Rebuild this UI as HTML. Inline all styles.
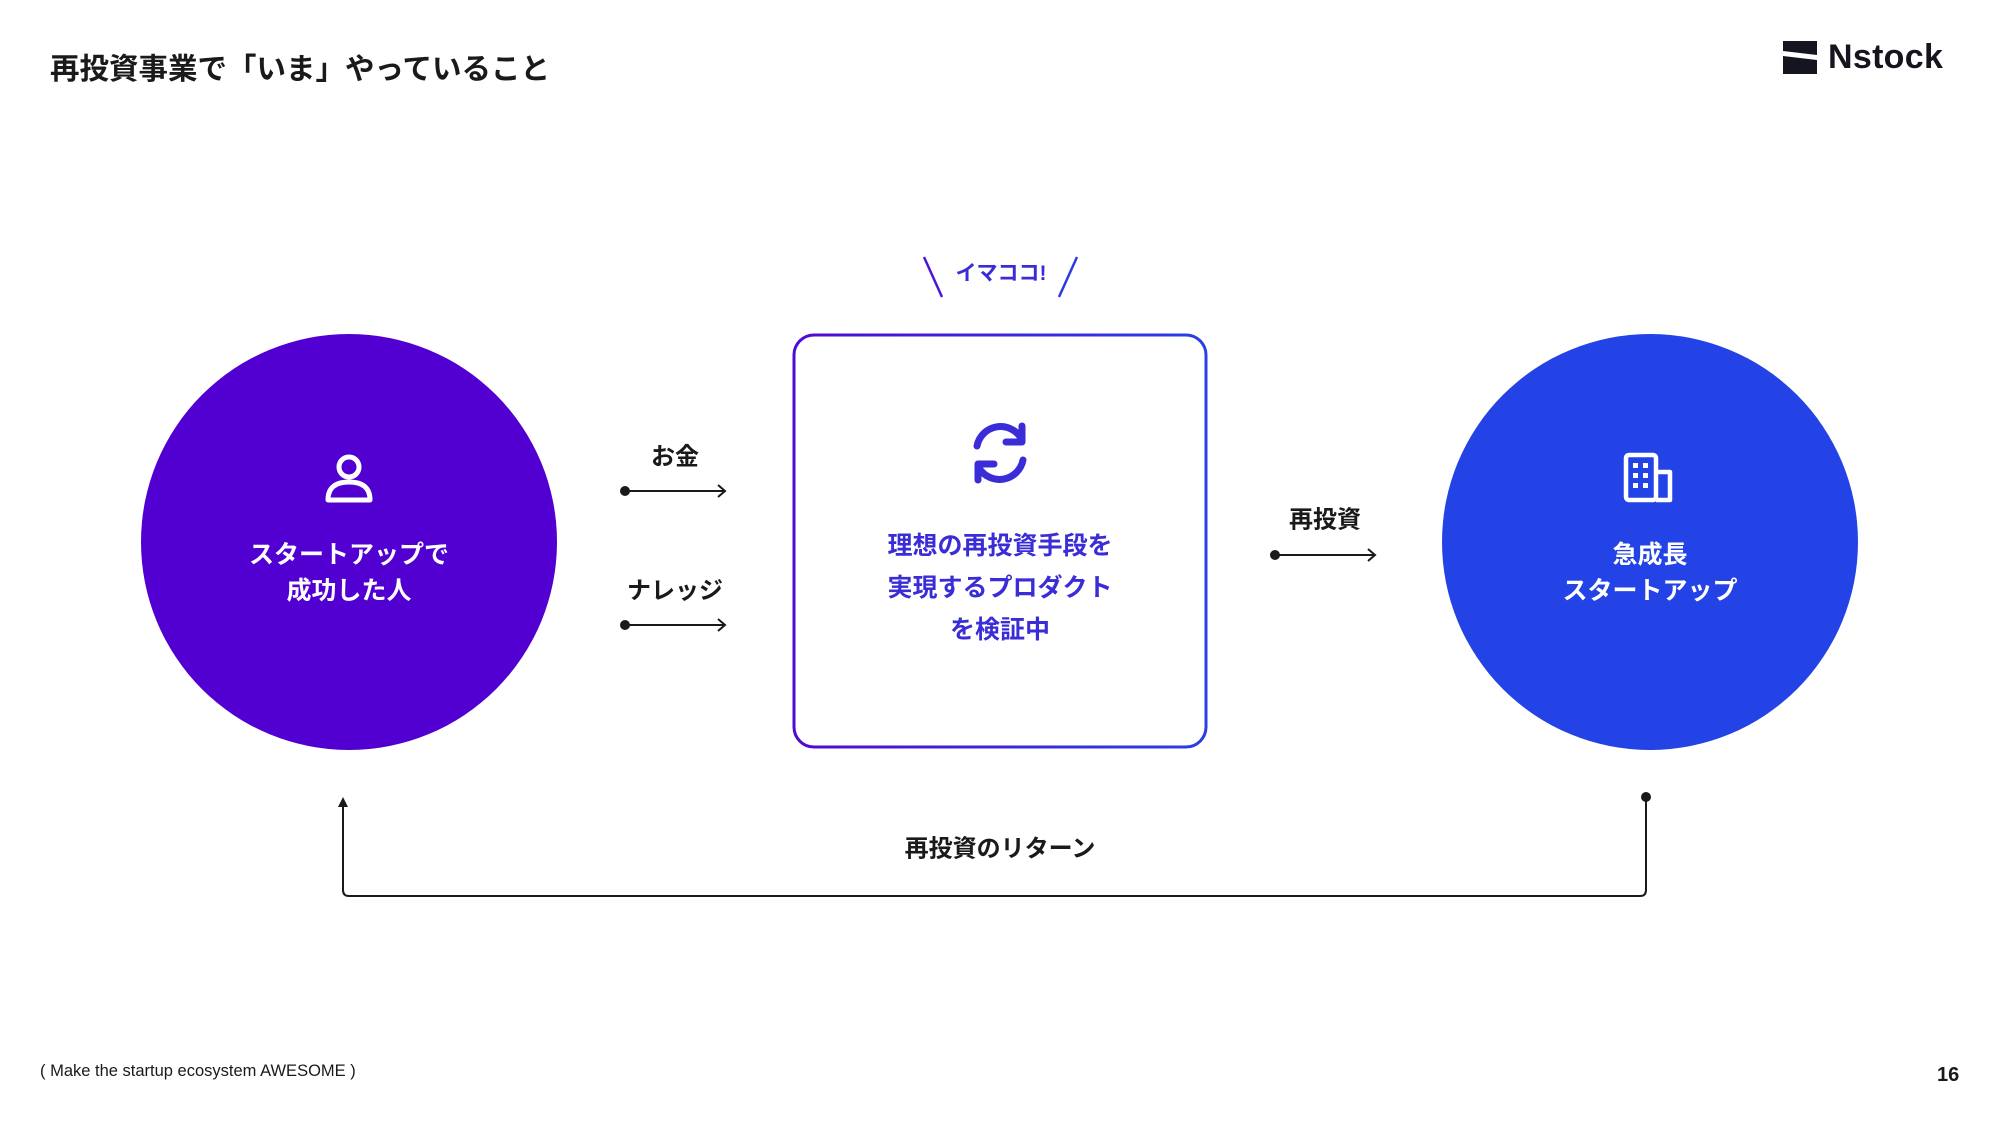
<!DOCTYPE html>
<html><head><meta charset="utf-8"><style>
body{margin:0;width:2000px;height:1125px;background:#fff;position:relative;overflow:hidden;font-family:"Liberation Sans","Noto Sans CJK JP",sans-serif;color:#1a1a1a}
.t{position:absolute;white-space:nowrap;font-weight:700}
.c{transform:translate(-50%,-50%);text-align:center}
</style></head><body>
<div class="t" style="left:50px;top:46px;font-size:29.5px;">再投資事業で「いま」やっていること</div>
<svg style="position:absolute;left:1783px;top:41px" width="34" height="33" viewBox="0 0 34 33"><polygon points="0,0 34,0 34,14 0,10" fill="#15151f"/><polygon points="0,15 34,19 34,33 0,33" fill="#15151f"/></svg>
<div class="t" style="left:1828px;top:38px;font-size:34px;color:#15151f;letter-spacing:0.3px">Nstock</div>

<svg style="position:absolute;left:0;top:0" width="2000" height="1125">
<defs><linearGradient id="g" x1="0" x2="1" y1="0" y2="0"><stop offset="0" stop-color="#4f0ad3"/><stop offset="1" stop-color="#2a3fe6"/></linearGradient></defs>
<circle cx="349" cy="542" r="208" fill="#5200d2"/>
<circle cx="1650" cy="542" r="208" fill="#2343e6"/>
<rect x="794" y="335" width="412" height="412" rx="20" fill="#fff" stroke="url(#g)" stroke-width="3"/>
<line x1="924" y1="257" x2="942" y2="297" stroke="#4a16d8" stroke-width="2.5"/>
<line x1="1077" y1="257" x2="1059" y2="297" stroke="#2f3ae3" stroke-width="2.5"/>
<g stroke="#1a1a1a" stroke-width="2" fill="none">
<line x1="625" y1="491" x2="725" y2="491"/><polyline points="718,485 725,491 718,497"/>
<line x1="625" y1="625" x2="725" y2="625"/><polyline points="718,619 725,625 718,631"/>
<line x1="1275" y1="555" x2="1375" y2="555"/><polyline points="1368,549 1375,555 1368,561"/>
<path d="M1646 797 V890 Q1646 896 1640 896 H349 Q343 896 343 890 V804"/>
</g>
<g fill="#1a1a1a"><circle cx="625" cy="491" r="5"/><circle cx="625" cy="625" r="5"/><circle cx="1275" cy="555" r="5"/><circle cx="1646" cy="797" r="5"/><polygon points="343,797 338,807 348,807"/></g>
<g stroke="#fff" stroke-width="5" fill="none"><circle cx="349" cy="467" r="10"/><path d="M328 500 Q328 482 349 482 Q370 482 370 500 Z" stroke-linejoin="round"/></g>
<g stroke="#3a2cd6" stroke-width="7" fill="none" stroke-linecap="round" stroke-linejoin="round">
<path d="M977 446 A24 24 0 0 1 1021 438"/><polyline points="1022,426 1022,442 1006,442"/>
<path d="M1023 460 A24 24 0 0 1 979 468"/><polyline points="978,480 978,464 994,464"/>
</g>
<g stroke="#fff" stroke-width="4.5" fill="none" stroke-linejoin="round">
<rect x="1626" y="455" width="30" height="45" rx="3"/><path d="M1656 472 H1670 V500 H1656"/>
</g>
<g fill="#fff"><rect x="1633" y="463" width="5" height="5"/><rect x="1643" y="463" width="5" height="5"/><rect x="1633" y="473" width="5" height="5"/><rect x="1643" y="473" width="5" height="5"/><rect x="1633" y="483" width="5" height="5"/><rect x="1643" y="483" width="5" height="5"/></g>
</svg>

<div class="t c" style="left:1001px;top:272px;font-size:21px;color:#3a2cd6">イマココ!</div>
<div class="t c" style="left:349px;top:573px;font-size:25px;line-height:36px;color:#fff">スタートアップで<br>成功した人</div>
<div class="t c" style="left:1650px;top:573px;font-size:25px;line-height:36px;color:#fff">急成長<br>スタートアップ</div>
<div class="t c" style="left:1000px;top:588px;font-size:25px;line-height:42px;color:#3a2cd6">理想の再投資手段を<br>実現するプロダクト<br>を検証中</div>
<div class="t c" style="left:675px;top:454px;font-size:24px">お金</div>
<div class="t c" style="left:675px;top:588px;font-size:24px">ナレッジ</div>
<div class="t c" style="left:1325px;top:517px;font-size:24px">再投資</div>
<div class="t c" style="left:1000px;top:846px;font-size:24px">再投資のリターン</div>
<div style="position:absolute;left:40px;top:1062px;font-size:16.5px;white-space:nowrap">( Make the startup ecosystem AWESOME )</div>
<div class="t" style="left:1937px;top:1064px;font-size:20px">16</div>
</body></html>
